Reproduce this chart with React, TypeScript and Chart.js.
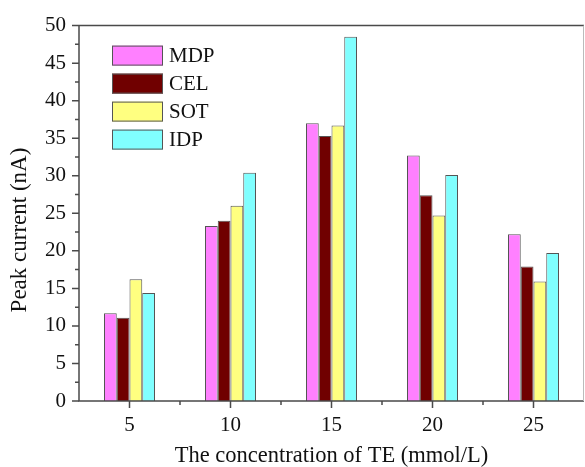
import React, { useEffect, useRef } from "react";
import { Chart, registerables } from "chart.js";

Chart.register(...registerables);

const categories = ["5", "10", "15", "20", "25"];
const seriesNames = ["MDP", "CEL", "SOT", "IDP"];
const mdpValues = [11.7, 23.3, 37.0, 32.7, 22.2];
const celValues = [11.1, 24.0, 35.3, 27.4, 17.9];
const sotValues = [16.2, 26.0, 36.7, 24.7, 15.9];
const idpValues = [14.4, 30.4, 48.5, 30.1, 19.7];
const seriesColors = ["#FF80FF", "#700000", "#FFFF80", "#80FFFF"];
const yTitle = "Peak current (nA)";
const xTitle = "The concentration of TE (mmol/L)";

const FONT = "'Liberation Serif', 'Times New Roman', serif";
const AXIS = "#4a4a4a";

const framePlugin = {
  id: "frame",
  afterDraw(chart: any) {
    const { ctx, chartArea } = chart;
    const { left, right, top, bottom } = chartArea;
    const xs = chart.scales.x;
    const ys = chart.scales.y;
    ctx.save();
    ctx.strokeStyle = AXIS;
    ctx.lineWidth = 1.5;
    ctx.beginPath();
    ctx.moveTo(left, top);
    ctx.lineTo(right, top);
    ctx.moveTo(left, top);
    ctx.lineTo(left, bottom);
    ctx.lineTo(right, bottom);
    ctx.stroke();
    ctx.strokeStyle = "#bbbbbb";
    ctx.lineWidth = 1;
    ctx.beginPath();
    ctx.moveTo(right - 0.5, top);
    ctx.lineTo(right - 0.5, bottom);
    ctx.stroke();
    // y ticks
    ctx.strokeStyle = AXIS;
    ctx.lineWidth = 1.5;
    ctx.beginPath();
    const yt = ys.ticks;
    for (let i = 0; i < yt.length; i++) {
      const y = ys.getPixelForValue(yt[i].value);
      ctx.moveTo(left, y);
      ctx.lineTo(left - 7, y);
      if (i < yt.length - 1) {
        const ym = ys.getPixelForValue((yt[i].value + yt[i + 1].value) / 2);
        ctx.moveTo(left, ym);
        ctx.lineTo(left - 4, ym);
      }
    }
    // x ticks
    for (let i = 0; i < categories.length; i++) {
      const x = xs.getPixelForValue(i);
      ctx.moveTo(x, bottom);
      ctx.lineTo(x, bottom + 7);
      if (i < categories.length - 1) {
        const xm = (x + xs.getPixelForValue(i + 1)) / 2;
        ctx.moveTo(xm, bottom);
        ctx.lineTo(xm, bottom + 4);
      }
    }
    ctx.stroke();

    // legend
    const lx = left + 33;
    const ly = top + 20;
    ctx.font = `21px ${FONT}`;
    ctx.textBaseline = "middle";
    ctx.textAlign = "left";
    chart.data.datasets.forEach((ds: any, i: number) => {
      const by = ly + i * 28;
      ctx.fillStyle = ds.backgroundColor;
      ctx.fillRect(lx, by, 51, 20);
      ctx.strokeStyle = "#555";
      ctx.lineWidth = 1;
      ctx.strokeRect(lx + 0.5, by + 0.5, 50, 19);
      ctx.fillStyle = "#111";
      ctx.fillText(ds.label, lx + 57, by + 11);
    });

    // y title
    ctx.save();
    ctx.translate(20, 230);
    ctx.rotate(-Math.PI / 2);
    ctx.textAlign = "center";
    ctx.textBaseline = "middle";
    ctx.fillStyle = "#111";
    ctx.font = `23px ${FONT}`;
    ctx.fillText(yTitle, 0, 0);
    ctx.restore();
    ctx.restore();
  },
};

export default function App() {
  const ref = useRef<HTMLCanvasElement | null>(null);
  useEffect(() => {
    if (!ref.current) return;
    const values = [mdpValues, celValues, sotValues, idpValues];
    const chart = new Chart(ref.current, {
      type: "bar",
      data: {
        labels: categories,
        datasets: seriesNames.map((name, i) => ({
          label: name,
          data: values[i],
          backgroundColor: seriesColors[i],
          borderColor: "#555555",
          borderWidth: 1,
          categoryPercentage: 0.505,
          barPercentage: 1,
        })),
      },
      options: {
        animation: false,
        responsive: true,
        maintainAspectRatio: false,
        layout: { padding: { top: 23, right: 1, left: 0, bottom: 0 } },
        plugins: {
          legend: { display: false },
          tooltip: { enabled: false },
        },
        scales: {
          x: {
            grid: { display: false, drawTicks: false },
            border: { display: false },
            ticks: {
              color: "#111",
              font: { family: FONT, size: 21 },
              padding: 12,
              maxRotation: 0,
            },
            title: {
              display: true,
              text: xTitle,
              color: "#111",
              font: { family: FONT, size: 22.5, lineHeight: 1 },
              padding: 0,
            },
            afterFit: (s: any) => {
              s.height = 66;
            },
          },
          y: {
            min: 0,
            max: 50,
            grid: { display: false, drawTicks: false },
            border: { display: false },
            ticks: {
              stepSize: 5,
              color: "#111",
              font: { family: FONT, size: 21 },
              padding: 13,
            },
            afterFit: (s: any) => {
              s.width = 79;
            },
          },
        },
      },
      plugins: [framePlugin],
    });
    return () => chart.destroy();
  }, []);
  return (
    <div style={{ position: "fixed", left: 0, top: 0, width: 585, height: 467, background: "#fff" }}>
      <canvas ref={ref} />
    </div>
  );
}
